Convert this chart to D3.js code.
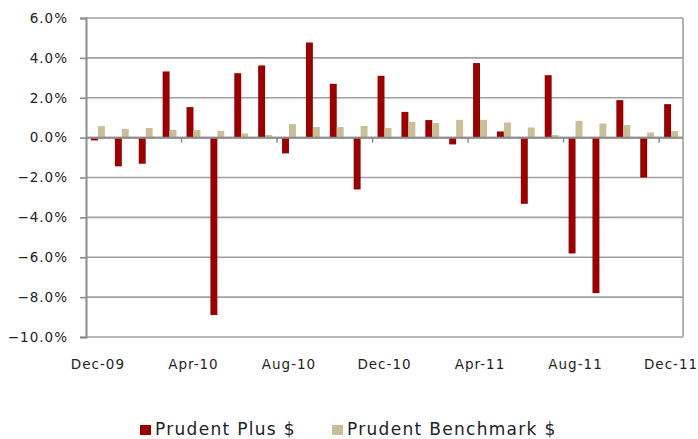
<!DOCTYPE html>
<html>
<head>
<meta charset="utf-8">
<script src="https://cdn.jsdelivr.net/npm/d3@7"></script>
<style>
  body { margin: 0; background: #fff; }
  text { font-family: "DejaVu Sans", Verdana, sans-serif; fill: #222; }
</style>
</head>
<body>
<script>
const WIDTH = 698
const HEIGHT = 439

// data (monthly returns, %)
const months = ["Dec-09","Jan-10","Feb-10","Mar-10","Apr-10","May-10","Jun-10","Jul-10","Aug-10","Sep-10","Oct-10","Nov-10",
  "Dec-10","Jan-11","Feb-11","Mar-11","Apr-11","May-11","Jun-11","Jul-11","Aug-11","Sep-11","Oct-11","Nov-11","Dec-11"]
const plusValues = [-0.14,-1.44,-1.31,3.32,1.53,-8.9,3.23,3.62,-0.79,4.77,2.70,-2.6,
  3.10,1.29,0.88,-0.34,3.74,0.31,-3.32,3.13,-5.81,-7.8,1.88,-2.0,1.68]
const benchValues = [0.58,0.44,0.48,0.39,0.38,0.34,0.21,0.13,0.68,0.53,0.53,0.58,
  0.48,0.78,0.73,0.89,0.89,0.76,0.51,0.13,0.84,0.71,0.63,0.26,0.33]
const yTicks = [6,4,2,0,-2,-4,-6,-8,-10]
const xLabelEvery = 4
const seriesNames = ["Prudent Plus $", "Prudent Benchmark $"]
const colors = ["#990000", "#C8BE97"]

const margin = {left: 86, right: 15, top: 18, bottom: 102}
const plotW = WIDTH - margin.left - margin.right
const plotH = HEIGHT - margin.top - margin.bottom

const svg = d3.select("body").append("svg")
    .attr("width", WIDTH)
    .attr("height", HEIGHT)

const g = svg.append("g").attr("transform", `translate(${margin.left},${margin.top})`)

const x = d3.scaleBand().domain(months).range([0, plotW])
const y = d3.scaleLinear().domain([-10, 6]).range([plotH, 0])

const inner = d3.scaleBand().domain([0, 1]).range([5, x.bandwidth() - 5])

// gridlines
g.selectAll(".grid").data(yTicks).enter().append("line")
    .attr("x1", 0).attr("x2", plotW)
    .attr("y1", d => y(d)).attr("y2", d => y(d))
    .attr("stroke", "#a0a0a0").attr("stroke-width", 1.6)

// right border
g.append("line").attr("x1", plotW).attr("x2", plotW).attr("y1", 0).attr("y2", plotH)
    .attr("stroke", "#a0a0a0").attr("stroke-width", 1.6)

// bars
const series = [plusValues, benchValues]
series.forEach((vals, s) => {
  g.append("g").selectAll("rect").data(vals).enter().append("rect")
      .attr("x", (d, i) => x(months[i]) + inner(s))
      .attr("width", inner.bandwidth())
      .attr("y", d => y(Math.max(0, d)))
      .attr("height", d => Math.abs(y(d) - y(0)))
      .attr("fill", colors[s])
})

// zero line with ticks
g.append("line").attr("x1", 0).attr("x2", plotW).attr("y1", y(0)).attr("y2", y(0))
    .attr("stroke", "#8c8c8c").attr("stroke-width", 2)
g.selectAll(".xt").data(months.filter((m, i) => i % xLabelEvery === 0 && i > 0)).enter().append("line")
    .attr("x1", d => x(d)).attr("x2", d => x(d))
    .attr("y1", y(0)).attr("y2", y(0) + 5)
    .attr("stroke", "#8c8c8c").attr("stroke-width", 1.5)

// y axis
const yAxis = g.append("g").call(d3.axisLeft(y).tickValues(yTicks).tickSize(6).tickPadding(12)
    .tickFormat(d => d3.format(".1f")(d) + "%"))
yAxis.select(".domain").attr("stroke", "#8c8c8c").attr("stroke-width", 2)
yAxis.selectAll(".tick line").attr("stroke", "#8c8c8c").attr("stroke-width", 1.6)
yAxis.selectAll("text").style("font-size", "13.5px").style("letter-spacing", "1px")
    .style("font-family", "DejaVu Sans").attr("fill", "#222")

// x labels
g.selectAll(".xl").data(months.filter((m, i) => i % xLabelEvery === 0)).enter().append("text")
    .attr("x", d => x(d) + x.bandwidth() / 2)
    .attr("y", plotH + 32)
    .attr("text-anchor", "middle")
    .style("font-size", "13.5px").style("letter-spacing", "1px")
    .text(d => d)

// legend
const legendX = [140, 332]
const leg = svg.append("g")
seriesNames.forEach((name, i) => {
  leg.append("rect").attr("x", legendX[i]).attr("y", 425).attr("width", 11).attr("height", 10)
      .attr("fill", colors[i])
  leg.append("text").attr("x", legendX[i] + 15).attr("y", 435)
      .style("font-size", "17px").style("letter-spacing", "1.3px")
      .text(name)
})
</script>
</body>
</html>
